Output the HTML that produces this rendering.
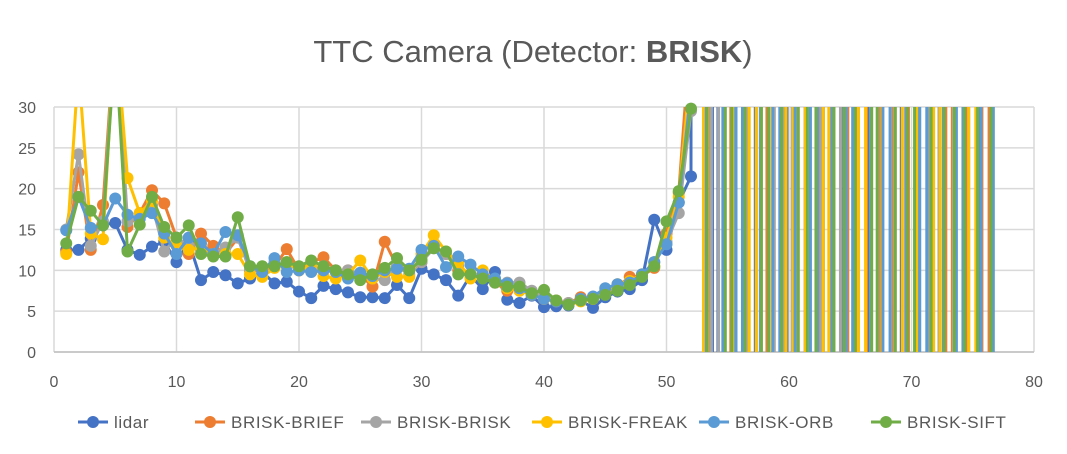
<!DOCTYPE html>
<html><head><meta charset="utf-8"><style>
html,body{margin:0;background:#fff;overflow:hidden;width:1067px;height:454px;}
svg{display:block;}
svg text{font-family:"Liberation Sans",sans-serif;}
</style></head><body>
<svg id="chart" width="1067" height="454" viewBox="0 0 1067 454" xmlns="http://www.w3.org/2000/svg">
<rect width="1067" height="454" fill="#fff"/>
<text x="533" y="62" text-anchor="middle" font-size="31" fill="#595959">TTC Camera (Detector: <tspan font-weight="bold">BRISK</tspan>)</text>
<defs><clipPath id="pc"><rect x="54" y="107" width="980" height="245"/></clipPath></defs>
<g id="grid"></g><g id="series" ></g><g id="legend"></g>
</svg>
<script>
const xTicks=[0,10,20,30,40,50,60,70,80];
const yTicks=[0,5,10,15,20,25,30];
const seriesNames=["lidar","BRISK-BRIEF","BRISK-BRISK","BRISK-FREAK","BRISK-ORB","BRISK-SIFT"];
const seriesColors=["#4472c4","#ed7d31","#a5a5a5","#ffc000","#5b9bd5","#70ad47"];
const lidar=[12.5,12.5,13.9,15.6,15.8,12.5,11.9,12.9,13.5,11,13.5,8.8,9.8,9.4,8.4,9,9.8,8.4,8.6,7.4,6.6,8.1,7.7,7.3,6.7,6.7,6.6,8.2,6.6,10.2,9.5,8.8,6.9,9.4,7.7,9.8,6.4,6,6.9,5.5,5.6,5.7,6.3,5.4,6.7,7.4,7.7,8.8,16.2,12.5,18.3,21.5];
const brief=[12.2,22,12.5,18,40,15.3,17,19.8,18.2,14,12,14.5,13,12,14,10,10,10.5,12.6,10,11,11.6,10,10,9.5,8,13.5,10.5,10,11,13,12,10,9.2,9.5,8.5,7.5,8,7,6.5,6.2,6,6.7,6.5,7.2,8,9.2,9.3,10.3,14.5,19.5,40];
const brisk=[15,24.2,13,16,40,16,16.5,18,12.3,14,13,12.5,12,12.8,14,10,10.2,11,10.5,10.3,10,10.5,10,10,9.5,9,8.8,10.5,9.5,11,12.7,12,10.5,9.5,9.2,8.5,8.5,8.5,7.5,7,6.3,6,6.3,6.5,7.3,8,8.5,9.5,11,13.5,17,29.5];
const freak=[12,35,14.5,13.8,40,21.3,17,18.5,14,13,12.5,12.8,12,12,12,9.5,9.2,10.3,11,10,10.5,9.3,9,9.5,11.2,9,9.8,9.2,9.2,12,14.3,12.3,11,9,10,8.7,7.8,7.5,7,6.5,6.3,5.8,6.2,6.5,7.5,8.3,8.7,9.5,10.5,14,19,35];
const orb=[14.9,19,15.2,15.5,18.8,16.8,16.3,17,14.5,12,14,13.3,12,14.7,14.3,10.5,9.8,11.5,9.8,10,9.8,10,9.8,9,9.7,9.3,10,10.2,10.2,12.5,13,10.4,11.7,10.7,9.5,9,8.4,7.8,7,6.5,6.2,5.8,6.5,6.8,7.8,8.3,8.5,9.5,11,13.2,18.3,32];
const sift=[13.3,19,17.3,15.5,38,12.3,15.6,19,15.3,14,15.5,12,11.7,11.7,16.5,10.5,10.5,10.5,11,10.5,11.2,10.5,10,9.5,8.8,9.5,10.3,11.5,10,11.3,12.7,12.3,9.5,9.5,9,8.5,8,8,7.2,7.6,6.3,5.8,6.3,6.5,7,7.5,8.2,9.2,10.5,16,19.7,29.8];
const lidarTail=[3e4,-1e4,4e4,-2e4,1e4,-3e4,5e4,-1e4,2e4,-4e4,1e4,-1e4,3e4,-2e4,2e4,-2e4,1e4,-5e4,4e4,-1e4,3e4,-3e4,2e4,-2e4,1e4];
const briefTail=[3e4,-2e4,1e4,-3e4,2e4,-1e4,4e4,-3e4,1e4,-2e4,3e4,-4e4,1e4,-1e4,2e4,-3e4,3e4,-1e4,2e4,-4e4,1e4,-2e4,3e4,-1e4,2e4];
const briskTail=[2e4,-1e4,3e4,-2e4,2e4,-4e4,1e4,-1e4,3e4,-3e4,2e4,-1e4,4e4,-2e4,1e4,-3e4,2e4,-2e4,1e4,-1e4,3e4,-4e4,2e4,-1e4,1e4];
const freakTail=[1e3,-4e4,2e4,-3e4,1e4,-2e4,3e4,-1e4,2e4,-4e4,1e4,-3e4,2e4,-1e4,3e4,-2e4,1e4,-3e4,4e4,-1e4,2e4,-2e4,1e4,-3e4,2e4];
const orbTail=[1e4,-3e4,2e4,-1e4,4e4,-2e4,1e4,-3e4,3e4,-1e4,2e4,-2e4,1e4,-4e4,2e4,-1e4,3e4,-2e4,1e4,-3e4,2e4,-1e4,4e4,-2e4,1e4];
const siftTail=[2e4,-4e4,1e4,-2e4,3e4,-1e4,2e4,-3e4,1e4,-1e4,4e4,-2e4,2e4,-3e4,1e4,-4e4,2e4,-1e4,3e4,-2e4,1e4,-1e4,2e4,-3e4,3e4];
const heads=[lidar,brief,brisk,freak,orb,sift];
const tails=[lidarTail,briefTail,briskTail,freakTail,orbTail,siftTail];

const NS="http://www.w3.org/2000/svg";
const X0=54,X1=1034,Y0=352,Y1=107;
function sx(v){return X0+(v-0)/(80-0)*(X1-X0);}
function sy(v){return Y0-(v-0)/(30-0)*(Y0-Y1);}
function mk(tag,attrs,parent){const e=document.createElementNS(NS,tag);for(const k in attrs)e.setAttribute(k,attrs[k]);parent.appendChild(e);return e;}
const grid=document.getElementById('grid');
yTicks.forEach(t=>{
  const l=mk('line',{x1:X0,x2:X1,y1:sy(t),y2:sy(t),stroke:'#d9d9d9','stroke-width':1.5},grid);
  
  
  const tx=mk('text',{x:36,y:sy(t)+6,'text-anchor':'end','font-size':16,fill:'#595959'},grid);
  tx.textContent=t;
  
  
});
xTicks.forEach(t=>{
  const l=mk('line',{x1:sx(t),x2:sx(t),y1:Y1,y2:Y0,stroke:'#d9d9d9','stroke-width':1.5},grid);
  
  
  const tx=mk('text',{x:sx(t),y:387,'text-anchor':'middle','font-size':16,fill:'#595959'},grid);
  tx.textContent=t;
  
  
});
const ax=mk('line',{x1:X0,x2:X1,y1:Y0,y2:Y0,stroke:'#bfbfbf','stroke-width':1.5},grid);



const sg=document.getElementById('series');
heads.forEach((h,i)=>{
  const vals=h.concat(tails[i]);
  const g=mk('g',{},sg);
  
  
  const pts=vals.map((v,k)=>sx(k+1).toFixed(2)+','+sy(v).toFixed(2)).join(' ');
  const pl=mk('polyline',{points:pts,fill:'none',stroke:seriesColors[i],'stroke-width':3,'clip-path':'url(#pc)','stroke-linejoin':'round'},g);
  
  
  h.forEach((v,k)=>{
    if(v<0||v>30)return;
    const c=mk('circle',{cx:sx(k+1),cy:sy(v),r:6,fill:seriesColors[i]},g);
    
    
  });
});
const lg=document.getElementById('legend');
const lx=[78,195,361,532,699,871];
seriesNames.forEach((n,i)=>{
  const g=mk('g',{},lg);
  
  
  mk('line',{x1:lx[i],x2:lx[i]+30,y1:422,y2:422,stroke:seriesColors[i],'stroke-width':3},g);
  mk('circle',{cx:lx[i]+15,cy:422,r:6,fill:seriesColors[i]},g);
  const t=mk('text',{x:lx[i]+36,y:428,'font-size':17,'letter-spacing':'0.6',fill:'#595959'},g);
  t.textContent=n;
});
</script>
</body></html>
